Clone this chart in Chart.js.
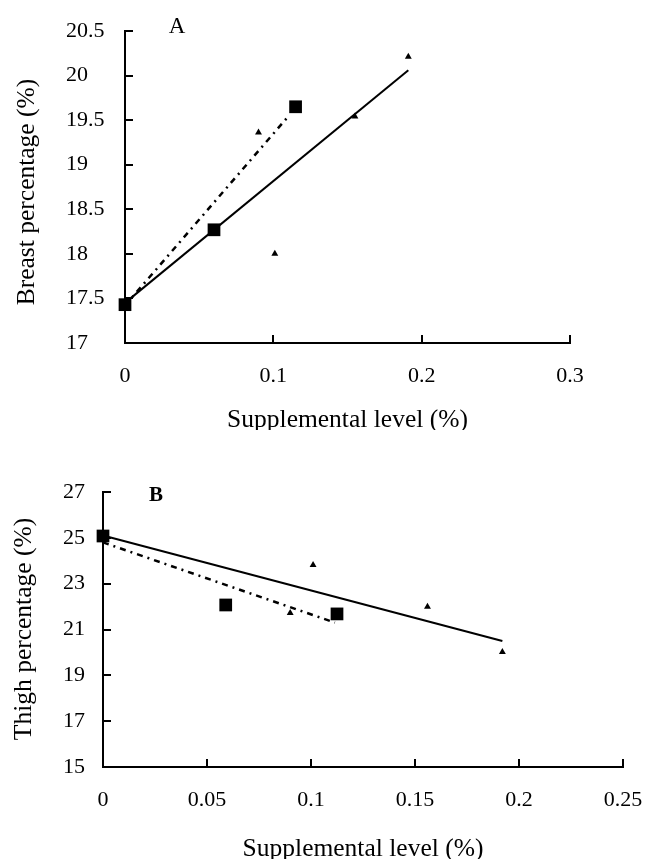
<!DOCTYPE html>
<html>
<head>
<meta charset="utf-8">
<script src="https://cdn.jsdelivr.net/npm/chart.js@4.4.1/dist/chart.umd.min.js"></script>
<style>
  body { margin: 0; background: #fff; }
  canvas { display: block; }
</style>
</head>
<body>
<canvas id="chartA" width="645" height="430"></canvas>
<canvas id="chartB" width="645" height="429"></canvas>
<script>
// Panel A - breast percentage
const squareLevelsA = [0, 0.06, 0.115];
const squareBreast = [17.43, 18.27, 19.65];
const triangleLevelsA = [0.09, 0.101, 0.155, 0.191];
const triangleBreast = [19.36, 18.0, 19.54, 20.21];
const solidFitLevelsA = [0, 0.191];
const solidFitBreast = [17.45, 20.06];
const dashFitLevelsA = [0, 0.111];
const dashFitBreast = [17.42, 19.56];
const xTickLabelsA = ["0", "0.1", "0.2", "0.3"];
const yTickLabelsA = ["17", "17.5", "18", "18.5", "19", "19.5", "20", "20.5"];

// Panel B - thigh percentage
const squareLevelsB = [0, 0.059, 0.1125];
const squareThigh = [25.08, 22.07, 21.68];
const triangleLevelsB = [0.09, 0.101, 0.156, 0.192];
const triangleThigh = [21.72, 23.81, 21.99, 20.02];
const solidFitLevelsB = [0, 0.192];
const solidFitThigh = [25.1, 20.5];
const dashFitLevelsB = [0, 0.1115];
const dashFitThigh = [24.8, 21.3];
const xTickLabelsB = ["0", "0.05", "0.1", "0.15", "0.2", "0.25"];
const yTickLabelsB = ["15", "17", "19", "21", "23", "25", "27"];

const serif = "'Liberation Serif', 'Times New Roman', serif";

function toPoints(xs, ys) {
    return xs.map((x, i) => ({ x: x, y: ys[i] }));
}

// tick marks pointing into the plot, like the original figure
const inwardTicks = {
    id: "inwardTicks",
    beforeDatasetsDraw(chart) {
        const ctx = chart.ctx;
        const area = chart.chartArea;
        const xs = chart.scales.x;
        const ys = chart.scales.y;
        ctx.save();
        ctx.strokeStyle = "#000";
        ctx.lineWidth = 2;
        ctx.beginPath();
        xs.ticks.forEach(t => {
            const px = Math.round(xs.getPixelForValue(t.value));
            ctx.moveTo(px, area.bottom);
            ctx.lineTo(px, area.bottom - 8);
        });
        ys.ticks.forEach(t => {
            const py = Math.round(ys.getPixelForValue(t.value));
            ctx.moveTo(area.left, py);
            ctx.lineTo(area.left + 8, py);
        });
        ctx.stroke();
        ctx.restore();
    }
};

// panel letter (A / B) and the rotated y axis title
const captions = {
    id: "captions",
    afterDraw(chart, args, opts) {
        const ctx = chart.ctx;
        ctx.save();
        ctx.fillStyle = "#000";
        ctx.font = opts.letterFont;
        ctx.textAlign = "center";
        ctx.textBaseline = "alphabetic";
        ctx.fillText(opts.letter, opts.letterX, opts.letterY);

        ctx.font = opts.titleFont;
        ctx.textBaseline = "middle";
        ctx.translate(opts.titleX, opts.titleY);
        ctx.rotate(-Math.PI / 2);
        ctx.fillText(opts.title, 0, 0);
        ctx.restore();
    }
};

function buildChart(id, cfg) {
    const ctx = document.getElementById(id).getContext("2d");
    new Chart(ctx, {
        type: "scatter",
        data: {
            datasets: [
                {
                    data: toPoints(cfg.sqX, cfg.sqY),
                    pointStyle: "rect",
                    pointRadius: 9,
                    backgroundColor: "#000",
                    borderColor: "#000",
                    borderWidth: 0,
                    clip: false,
                    order: 0,
                },
                {
                    data: toPoints(cfg.trX, cfg.trY),
                    pointStyle: "triangle",
                    pointRadius: 4,
                    backgroundColor: "#000",
                    borderColor: "#000",
                    borderWidth: 0,
                    clip: false,
                    order: 0,
                },
                {
                    data: toPoints(cfg.solidX, cfg.solidY),
                    showLine: true,
                    pointRadius: 0,
                    borderColor: "#000",
                    borderWidth: 2,
                    clip: false,
                    order: 1,
                },
                {
                    data: toPoints(cfg.dashX, cfg.dashY),
                    showLine: true,
                    pointRadius: 0,
                    borderColor: "#000",
                    borderWidth: 2.5,
                    borderDash: [6, 5, 2, 5],
                    clip: false,
                    order: 1,
                },
            ],
        },
        options: {
            responsive: false,
            animation: false,
            events: [],
            layout: { padding: cfg.padding },
            plugins: {
                legend: { display: false },
                tooltip: { enabled: false },
                captions: cfg.captions,
            },
            scales: {
                x: {
                    type: "linear",
                    min: cfg.xMin,
                    max: cfg.xMax,
                    afterFit: s => {
                        s.height = cfg.xAxisHeight;
                        s.paddingLeft = 0;
                        s.paddingRight = 0;
                    },
                    ticks: {
                        stepSize: cfg.xStep,
                        padding: 20,
                        color: "#000",
                        font: { family: serif, size: 22 },
                        callback: (v, i) => cfg.xLabels[i],
                    },
                    grid: { display: false, drawTicks: false },
                    border: { display: true, color: "#000", width: 2 },
                    title: {
                        display: true,
                        text: "Supplemental level (%)",
                        color: "#000",
                        font: { family: serif, size: 25.5 },
                        padding: { top: 0, bottom: -6 },
                    },
                },
                y: {
                    min: cfg.yMin,
                    max: cfg.yMax,
                    afterFit: s => {
                        s.width = cfg.yAxisWidth;
                        s.paddingTop = 0;
                        s.paddingBottom = 0;
                    },
                    ticks: {
                        stepSize: cfg.yStep,
                        padding: 0,
                        crossAlign: "far",
                        color: "#000",
                        font: { family: serif, size: 22 },
                        callback: (v, i) => cfg.yLabels[i],
                    },
                    grid: { display: false, drawTicks: false },
                    border: { display: true, color: "#000", width: 2 },
                },
            },
        },
        plugins: [inwardTicks, captions],
    });
}

buildChart("chartA", {
    sqX: squareLevelsA, sqY: squareBreast,
    trX: triangleLevelsA, trY: triangleBreast,
    solidX: solidFitLevelsA, solidY: solidFitBreast,
    dashX: dashFitLevelsA, dashY: dashFitBreast,
    xMin: 0, xMax: 0.3, xStep: 0.1, xLabels: xTickLabelsA,
    yMin: 17, yMax: 20.5, yStep: 0.5, yLabels: yTickLabelsA,
    padding: { left: 66, top: 31, right: 75, bottom: 0 },
    xAxisHeight: 87, yAxisWidth: 59,
    captions: {
        letter: "A", letterFont: "23px " + serif, letterX: 177, letterY: 33,
        title: "Breast percentage (%)", titleFont: "25.5px " + serif, titleX: 27, titleY: 192,
    },
});

buildChart("chartB", {
    sqX: squareLevelsB, sqY: squareThigh,
    trX: triangleLevelsB, trY: triangleThigh,
    solidX: solidFitLevelsB, solidY: solidFitThigh,
    dashX: dashFitLevelsB, dashY: dashFitThigh,
    xMin: 0, xMax: 0.25, xStep: 0.05, xLabels: xTickLabelsB,
    yMin: 15, yMax: 27, yStep: 2, yLabels: yTickLabelsB,
    padding: { left: 63, top: 62, right: 22, bottom: 0 },
    xAxisHeight: 92, yAxisWidth: 40,
    captions: {
        letter: "B", letterFont: "bold 21px " + serif, letterX: 156, letterY: 71,
        title: "Thigh percentage (%)", titleFont: "25.5px " + serif, titleX: 24, titleY: 199,
    },
});
</script>
</body>
</html>
